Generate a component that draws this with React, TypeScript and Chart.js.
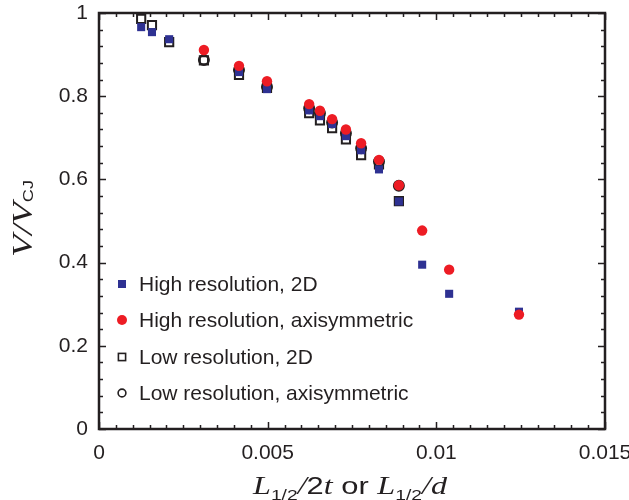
import React, { useEffect, useRef } from "react";
import { Chart, registerables } from "chart.js";
Chart.register(...registerables);

const xHigh2D = [0.00125, 0.00157, 0.00208, 0.00415, 0.00498, 0.00623, 0.00655, 0.00691, 0.00732, 0.00777, 0.0083, 0.00889, 0.00958, 0.01038, 0.01245];
const yHigh2D = [0.966, 0.954, 0.937, 0.858, 0.817, 0.766, 0.752, 0.733, 0.704, 0.67, 0.624, 0.547, 0.395, 0.325, 0.282];
const xHighAxi = [0.00311, 0.00415, 0.00498, 0.00623, 0.00655, 0.00691, 0.00732, 0.00777, 0.0083, 0.00889, 0.00958, 0.01038, 0.01245];
const yHighAxi = [0.911, 0.873, 0.836, 0.781, 0.765, 0.745, 0.72, 0.687, 0.647, 0.586, 0.477, 0.383, 0.275];
const xLow2D = [0.00125, 0.00157, 0.00208, 0.00311, 0.00415, 0.00498, 0.00623, 0.00655, 0.00691, 0.00732, 0.00777, 0.0083, 0.00889];
const yLow2D = [0.986, 0.971, 0.93, 0.886, 0.851, 0.82, 0.759, 0.742, 0.723, 0.696, 0.658, 0.636, 0.548];
const xLowAxi = [0.00311, 0.00415, 0.00498, 0.00623, 0.00655, 0.00691, 0.00732, 0.00777, 0.0083, 0.00889];
const yLowAxi = [0.887, 0.863, 0.822, 0.771, 0.759, 0.737, 0.711, 0.675, 0.643, 0.585];

const seriesNames = [
  "High resolution, 2D",
  "High resolution, axisymmetric",
  "Low resolution, 2D",
  "Low resolution, axisymmetric",
];
const xTickValues = [0, 0.005, 0.01, 0.015];
const yTickValues = [0, 0.2, 0.4, 0.6, 0.8, 1];

const BLUE = "#2e3192";
const RED = "#ed1c24";
const INK = "#231f20";
const SANS = "'Liberation Sans', Arial, sans-serif";
const SERIF = "'Liberation Serif', 'Times New Roman', serif";

const pts = (xs: number[], ys: number[]) => xs.map((x, i) => ({ x, y: ys[i] }));

type Part = { t: string; font: string; dy: number };

function drawParts(ctx: CanvasRenderingContext2D, parts: Part[], cx: number, baseY: number, targetW: number) {
  let total = 0;
  for (const p of parts) {
    ctx.font = p.font;
    total += ctx.measureText(p.t).width;
  }
  const k = targetW / total;
  ctx.save();
  ctx.translate(cx, baseY);
  ctx.scale(k, 1);
  let x = -total / 2;
  ctx.textAlign = "left";
  ctx.textBaseline = "alphabetic";
  for (const p of parts) {
    ctx.font = p.font;
    ctx.fillText(p.t, x, p.dy);
    x += ctx.measureText(p.t).width;
  }
  ctx.restore();
}

const decorPlugin = {
  id: "decor",
  afterDraw(chart: any) {
    const ctx: CanvasRenderingContext2D = chart.ctx;
    const { left, right, top, bottom } = chart.chartArea;
    const xs = chart.scales.x;
    const ys = chart.scales.y;
    ctx.save();
    ctx.strokeStyle = INK;
    ctx.lineWidth = 1.5;
    for (let i = 0; i <= 30; i++) {
      const v = i * 0.0005;
      const px = Math.round(xs.getPixelForValue(v)) + 0.5;
      const len = i % 10 === 0 ? 7 : 4;
      ctx.beginPath();
      ctx.moveTo(px, bottom);
      ctx.lineTo(px, bottom - len);
      ctx.moveTo(px, top);
      ctx.lineTo(px, top + len);
      ctx.stroke();
    }
    for (let i = 0; i <= 25; i++) {
      const v = i * 0.04;
      const py = Math.round(ys.getPixelForValue(v)) + 0.5;
      const len = i % 5 === 0 ? 7 : 4;
      ctx.beginPath();
      ctx.moveTo(left, py);
      ctx.lineTo(left + len, py);
      ctx.moveTo(right, py);
      ctx.lineTo(right - len, py);
      ctx.stroke();
    }
    ctx.lineWidth = 2.5;
    ctx.strokeRect(left, top, right - left, bottom - top);

    // legend
    const lx = 122;
    const ly = [284, 320, 357, 393];
    ctx.font = "21px " + SANS;
    ctx.textBaseline = "middle";
    ctx.textAlign = "left";
    ctx.fillStyle = INK;
    seriesNames.forEach((n, i) => {
      ctx.fillText(n, 139, ly[i] + 1);
    });
    ctx.fillStyle = BLUE;
    ctx.fillRect(lx - 4, ly[0] - 4, 8, 8);
    ctx.fillStyle = RED;
    ctx.beginPath();
    ctx.arc(lx, ly[1], 5, 0, Math.PI * 2);
    ctx.fill();
    ctx.lineWidth = 1.6;
    ctx.strokeStyle = INK;
    ctx.strokeRect(lx - 3.6, ly[2] - 3.6, 7.2, 7.2);
    ctx.beginPath();
    ctx.arc(lx, ly[3], 3.9, 0, Math.PI * 2);
    ctx.stroke();

    // axis titles
    ctx.fillStyle = INK;
    const serifI = "italic 25px " + SERIF;
    const sansSub = "15px " + SANS;
    const sans = "24px " + SANS;
    drawParts(
      ctx,
      [
        { t: "L", font: serifI, dy: 0 },
        { t: "1/2", font: sansSub, dy: 6 },
        { t: "/", font: serifI, dy: 0 },
        { t: "2", font: sans, dy: 0 },
        { t: "t", font: serifI, dy: 0 },
        { t: " or ", font: sans, dy: 0 },
        { t: "L", font: serifI, dy: 0 },
        { t: "1/2", font: sansSub, dy: 6 },
        { t: "/", font: serifI, dy: 0 },
        { t: "d", font: serifI, dy: 0 },
      ],
      350,
      494,
      194
    );
    ctx.save();
    ctx.translate(32, 218.5);
    ctx.rotate(-Math.PI / 2);
    drawParts(
      ctx,
      [
        { t: "V", font: "italic 30px " + SERIF, dy: 0 },
        { t: "/", font: "italic 30px " + SERIF, dy: 0 },
        { t: "V", font: "italic 30px " + SERIF, dy: 0 },
        { t: "CJ", font: "15px " + SANS, dy: 1 },
      ],
      0,
      0,
      77
    );
    ctx.restore();
    ctx.restore();
  },
};

export default function App() {
  const ref = useRef<HTMLCanvasElement | null>(null);
  useEffect(() => {
    if (!ref.current) return;
    const chart = new Chart(ref.current, {
      type: "scatter",
      data: {
        datasets: [
          {
            label: seriesNames[1],
            data: pts(xHighAxi, yHighAxi),
            pointStyle: "circle",
            pointRadius: 5.2,
            backgroundColor: RED,
            borderColor: RED,
            borderWidth: 0,
          },
          {
            label: seriesNames[0],
            data: pts(xHigh2D, yHigh2D),
            pointStyle: "rect",
            pointRadius: 5.7,
            backgroundColor: BLUE,
            borderColor: BLUE,
            borderWidth: 0,
          },
          {
            label: seriesNames[3],
            data: pts(xLowAxi, yLowAxi),
            pointStyle: "circle",
            pointRadius: 4.8,
            backgroundColor: "rgba(0,0,0,0)",
            borderColor: INK,
            borderWidth: 2.4,
          },
          {
            label: seriesNames[2],
            data: pts(xLow2D, yLow2D),
            pointStyle: "rect",
            pointRadius: 5.8,
            backgroundColor: "rgba(0,0,0,0)",
            borderColor: INK,
            borderWidth: 2,
          },
        ],
      },
      options: {
        responsive: false,
        animation: false,
        layout: { padding: { top: 13, right: 24, left: 0, bottom: 0 } },
        plugins: { legend: { display: false }, tooltip: { enabled: false } },
        scales: {
          x: {
            type: "linear",
            min: 0,
            max: 0.015,
            afterFit: (s: any) => {
              s.height = 71;
              s.paddingLeft = 0;
              s.paddingRight = 0;
            },
            afterBuildTicks: (s: any) => {
              s.ticks = xTickValues.map((v) => ({ value: v }));
            },
            ticks: {
              padding: 12,
              color: INK,
              font: { family: SANS, size: 21 },
              callback: (v: any) => String(+Number(v).toFixed(4)),
              maxRotation: 0,
              autoSkip: false,
            },
            grid: { display: false, drawTicks: false },
            border: { display: false },
          },
          y: {
            type: "linear",
            min: 0,
            max: 1,
            afterFit: (s: any) => {
              s.width = 99;
              s.paddingTop = 0;
              s.paddingBottom = 0;
            },
            afterBuildTicks: (s: any) => {
              s.ticks = yTickValues.map((v) => ({ value: v }));
            },
            ticks: {
              padding: 11,
              color: INK,
              font: { family: SANS, size: 21 },
              callback: (v: any) => String(+Number(v).toFixed(2)),
              autoSkip: false,
            },
            grid: { display: false, drawTicks: false },
            border: { display: false },
          },
        },
      },
      plugins: [decorPlugin],
    });
    return () => chart.destroy();
  }, []);
  return (
    <div style={{ position: "absolute", left: 0, top: 0, width: 629, height: 500, background: "#fff" }}>
      <canvas ref={ref} width={629} height={500} style={{ display: "block" }} />
    </div>
  );
}
